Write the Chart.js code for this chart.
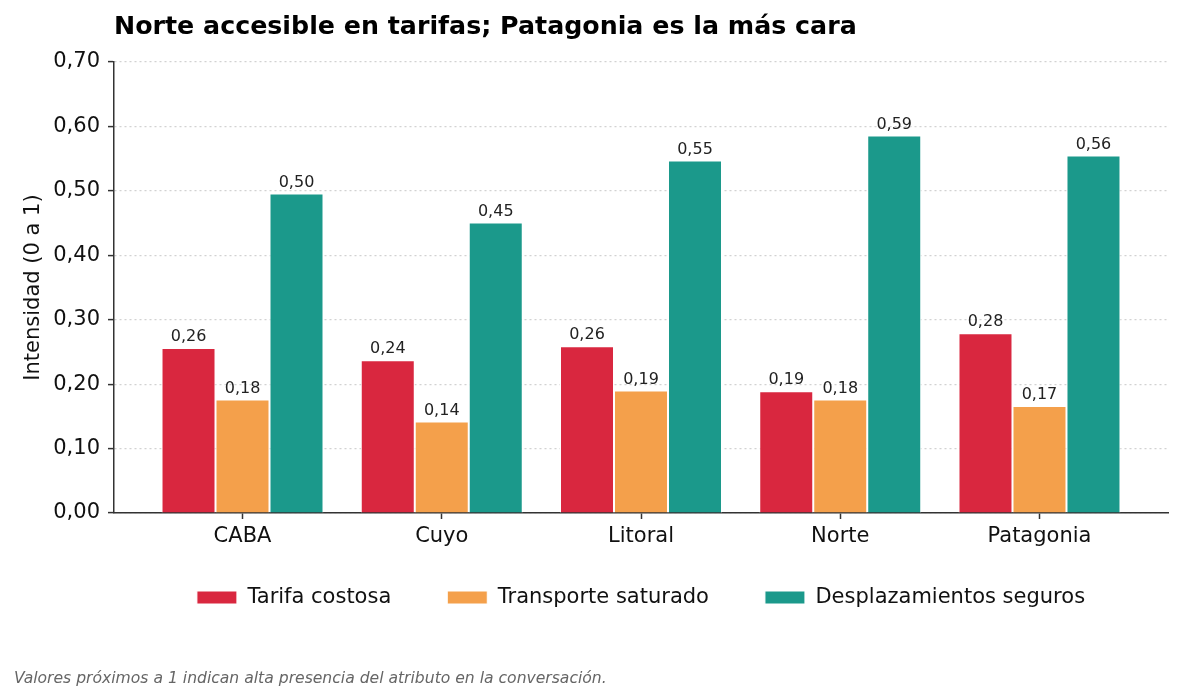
<!DOCTYPE html>
<html><head><meta charset="utf-8">
<script src="https://cdn.jsdelivr.net/npm/chart.js@4.4.1/dist/chart.umd.min.js"></script>
<style>html,body{margin:0;padding:0;background:#fff}#wrap{width:1183px;height:700px;position:relative}</style>
</head><body><div id="wrap"><canvas id="c" width="1183" height="700"></canvas></div>
<script>
const categories = ["CABA", "Cuyo", "Litoral", "Norte", "Patagonia"];
const tarifaCostosa = [0.256, 0.237, 0.259, 0.189, 0.279];
const transporteSaturado = [0.176, 0.142, 0.190, 0.176, 0.166];
const desplazamientosSeguros = [0.496, 0.451, 0.547, 0.586, 0.555];
const seriesNames = ["Tarifa costosa", "Transporte saturado", "Desplazamientos seguros"];
const seriesColors = ["#d9273f", "#f4a04b", "#1b998b"];
const yTicks = [0, 0.1, 0.2, 0.3, 0.4, 0.5, 0.6, 0.7];
const titleText = "Norte accesible en tarifas; Patagonia es la más cara";
const yTitle = "Intensidad (0 a 1)";
const footnote = "Valores próximos a 1 indican alta presencia del atributo en la conversación.";

const fmt = v => v.toFixed(2).replace('.', ',');
const FONT = "'DejaVu Sans', sans-serif";

const decor = {
  id: 'decor',
  afterLayout(chart) {
    const L = chart.legend;
    if (L) { const dy = -24; L.top += dy; L.bottom += dy; }
  },
  afterDatasetsDraw(chart) {
    const ctx = chart.ctx;
    ctx.save();
    ctx.font = "16px " + FONT;
    ctx.fillStyle = "#222";
    ctx.textAlign = "center";
    ctx.textBaseline = "bottom";
    chart.data.datasets.forEach((ds, i) => {
      const meta = chart.getDatasetMeta(i);
      meta.data.forEach((bar, j) => {
        ctx.fillText(fmt(ds.data[j].y), bar.x, bar.y - 3);
      });
    });
    ctx.restore();
  },
  afterDraw(chart) {
    const ctx = chart.ctx;
    ctx.save();
    ctx.font = "bold 25.3px " + FONT;
    ctx.fillStyle = "#000";
    ctx.textAlign = "left";
    ctx.textBaseline = "middle";
    ctx.fillText(titleText, chart.chartArea.left, 27);
    ctx.font = "italic 15.6px " + FONT;
    ctx.fillStyle = "#666";
    ctx.fillText(footnote, 14, 679);
    ctx.restore();
  }
};

new Chart(document.getElementById('c'), {
  type: 'bar',
  data: {
    datasets: [tarifaCostosa, transporteSaturado, desplazamientosSeguros].map((d, i) => ({
      label: seriesNames[i],
      data: d.map((v, k) => ({ x: k, y: v })),
      backgroundColor: seriesColors[i],
      borderColor: "#ffffff",
      borderWidth: 1,
      categoryPercentage: 0.813,
      barPercentage: 1.0
    }))
  },
  options: {
    responsive: false,
    animation: false,
    devicePixelRatio: 1,
    layout: { padding: { left: 0, right: 15, top: 62, bottom: 58 } },
    plugins: {
      title: { display: false },
      tooltip: { enabled: false },
      legend: {
        position: 'bottom',
        fullSize: false,
        labels: {
          boxWidth: 40, boxHeight: 13, padding: 56,
          color: "#111",
          font: { family: FONT, size: 21 }
        }
      }
    },
    scales: {
      x: {
        type: 'linear',
        min: -0.645, max: 4.645,
        offset: false,
        afterFit: s => { s.height = 42; },
        afterBuildTicks: s => { s.ticks = categories.map((c, k) => ({ value: k })); },
        grid: { display: true, offset: false, drawOnChartArea: false, drawTicks: true, tickLength: 6, tickColor: "#333", tickWidth: 1.5 },
        border: { display: true, color: "#333", width: 1.5 },
        ticks: { color: "#111", font: { family: FONT, size: 21 }, padding: 5, callback: v => categories[v] }
      },
      y: {
        min: 0, max: 0.7,
        afterFit: s => { s.width = 114; },
        afterBuildTicks: s => { s.ticks = yTicks.map(v => ({ value: v })); },
        grid: { color: "#d2d2d2", lineWidth: 1.2, drawTicks: true, tickLength: 6, tickColor: "#333", tickWidth: 1.5 },
        border: { display: true, color: "#333", width: 1.5, dash: [2, 3] },
        ticks: { color: "#111", font: { family: FONT, size: 21 }, padding: 8, callback: v => fmt(v) },
        title: { display: true, text: yTitle, color: "#111", font: { family: FONT, size: 21 }, padding: { top: 21, bottom: 0 } }
      }
    }
  },
  plugins: [decor]
});
</script></body></html>
